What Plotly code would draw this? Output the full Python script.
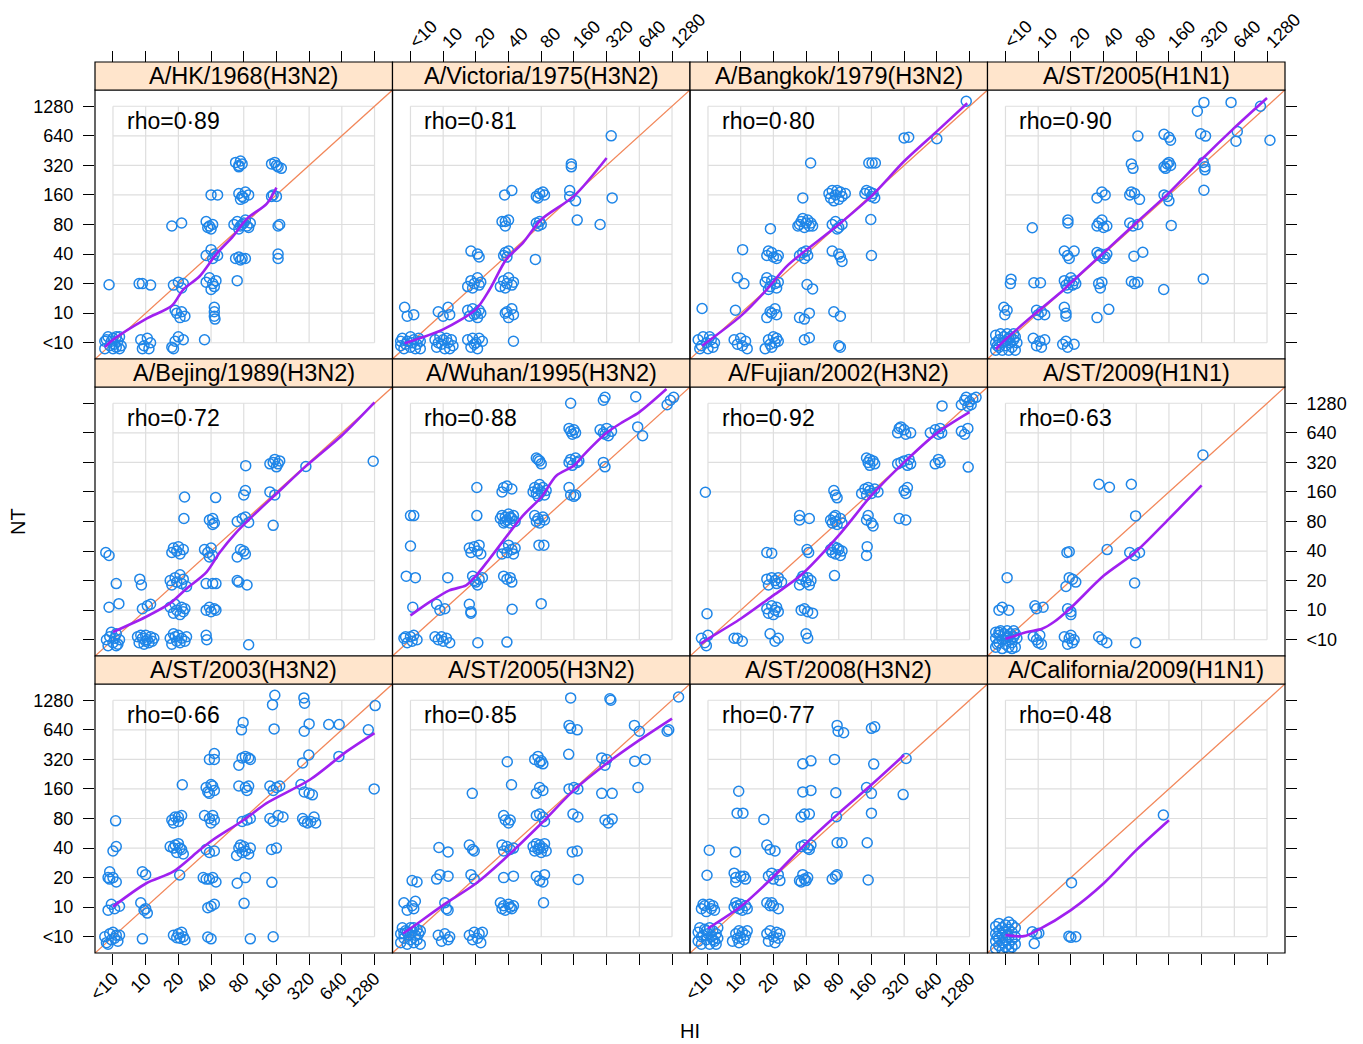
import plotly.graph_objects as go

TICK_TEXT = ["<10", "10", "20", "40", "80", "160", "320", "640", "1280"]
LEVELS = list(range(9))

STRAINS = ["A/HK/1968(H3N2)", "A/Victoria/1975(H3N2)", "A/Bangkok/1979(H3N2)", "A/ST/2005(H1N1)",
           "A/Bejing/1989(H3N2)", "A/Wuhan/1995(H3N2)", "A/Fujian/2002(H3N2)", "A/ST/2009(H1N1)",
           "A/ST/2003(H3N2)", "A/ST/2005(H3N2)", "A/ST/2008(H3N2)", "A/California/2009(H1N1)"]
RHO = ["0·89", "0·81", "0·80", "0·90", "0·72", "0·88", "0·92", "0·63", "0·66", "0·85", "0·77", "0·48"]

# points in titre-level units (0 = <10, 1 = 10, ... 8 = 1280), jitter
HK1968_PTS = [(-0.25, -0.2), (-0.2, 0.1), (-0.1, -0.1), (0, 0.15), (0.1, -0.15), (0.15, 0.05), (0.2, 0.2), (-0.15, 0.2),
              (0.05, -0.05), (0.25, -0.1), (-0.25, 0.05), (0.1, 0.2), (0, -0.2), (0.2, -0.2), (-0.05, 0.05),
              (0.85, 0.1), (0.95, -0.1), (1.05, 0.15), (1.15, 0), (1.1, -0.2), (0.9, -0.2),
              (1.8, -0.15), (1.9, 0.05), (2.0, 0.2), (2.15, 0.1), (1.85, -0.2), (2.8, 0.1), (-0.12, 1.96),
              (0.8, 2.0), (0.9, 2.0), (1.15, 1.95), (1.85, 1.95), (2.0, 2.05), (2.1, 1.85), (2.15, 2.0),
              (2.85, 2.05), (2.95, 2.2), (3.05, 2.0), (3.1, 1.9), (3.0, 1.8), (3.15, 2.1), (3.8, 2.1),
              (1.95, 1.0), (2.05, 0.85), (2.2, 0.9), (1.9, 1.1), (2.1, 1.05),
              (3.1, 1.2), (3.1, 1.05), (3.1, 0.9), (3.12, 0.8), (1.8, 3.95), (2.1, 4.05),
              (2.85, 4.1), (2.95, 3.95), (3.05, 4.0), (3.0, 3.85), (2.9, 3.9),
              (2.85, 2.95), (3.0, 3.15), (3.1, 3.0), (3.2, 2.95), (3.05, 2.85),
              (3.75, 2.85), (3.85, 2.9), (3.95, 2.85), (4.05, 2.85), (3.9, 2.8),
              (3.7, 4.0), (3.8, 4.1), (3.9, 3.95), (4.0, 4.05), (4.1, 3.95), (4.2, 4.05), (3.85, 3.85), (4.05, 4.15),
              (3.95, 4.0), (4.15, 3.9), (3.85, 5.05), (3.95, 4.95), (4.05, 5.1), (4.15, 5.0), (3.9, 4.85), (4.0, 4.9),
              (3.75, 6.1), (3.85, 5.95), (3.95, 6.05), (3.9, 6.15), (3.85, 6.0),
              (4.85, 6.05), (4.95, 6.1), (5.05, 5.95), (5.15, 5.9), (5.0, 6.0), (4.9, 5.0), (5.0, 4.95), (4.85, 4.95),
              (3.0, 5.0), (3.2, 5.0), (5.05, 3.95), (5.1, 4.0), (5.05, 3.0), (5.05, 2.85)]
HK1968_FIT = [(-0.25, -0.15), (0, 0.1), (1, 0.8), (1.8, 1.25), (2.15, 1.8), (2.65, 2.25), (3.16, 3.0),
              (3.67, 3.6), (4.1, 4.2), (4.7, 4.7), (5.0, 5.25)]

VIC1975_PTS = [(-0.3, -0.1), (-0.25, 0.15), (-0.2, -0.2), (-0.1, 0.05), (0, 0.2), (0, -0.15), (0.1, 0.1), (0.2, -0.05),
               (0.25, 0.15), (0.3, -0.2), (-0.15, -0.05), (0.15, -0.2), (0.05, 0.0), (-0.3, 0.05), (0.3, 0.05),
               (0.75, 0.1), (0.8, -0.15), (0.9, 0.2), (0.95, -0.05), (1.0, 0.1), (1.05, -0.2), (1.1, 0.15), (1.15, 0.0),
               (1.25, 0.1), (1.3, -0.1), (0.85, 0.0), (1.2, -0.2),
               (1.75, 0.1), (1.85, -0.15), (1.9, 0.15), (2.0, 0.0), (2.05, -0.2), (2.1, 0.15), (2.2, 0.05), (1.95, -0.05),
               (3.15, 0.05), (-0.18, 1.2), (-0.1, 0.9), (0.1, 0.95),
               (0.85, 1.05), (1.0, 0.9), (1.15, 1.2), (1.2, 0.95),
               (1.75, 1.1), (1.8, 0.9), (1.9, 1.15), (2.0, 1.0), (2.05, 0.85), (2.1, 1.1), (1.95, 0.95), (2.15, 1.0),
               (2.9, 1.0), (3.0, 0.85), (3.1, 1.15), (3.15, 0.95), (2.95, 1.05),
               (1.75, 1.9), (1.85, 2.1), (1.95, 2.0), (2.05, 2.2), (2.1, 1.95), (2.15, 2.05), (1.9, 1.85),
               (2.75, 1.9), (2.85, 2.1), (2.95, 2.0), (3.0, 2.2), (3.1, 1.95), (3.15, 2.05), (2.9, 1.85),
               (1.85, 3.1), (2.05, 3.0), (2.1, 2.9), (2.85, 2.95), (2.9, 3.05), (3.0, 3.1), (2.95, 2.9), (3.82, 2.82),
               (2.8, 4.1), (2.9, 4.1), (3.0, 4.15), (2.9, 3.95), (3.85, 4.05), (3.95, 4.1), (3.9, 3.95), (4.0, 4.0),
               (2.88, 5.0), (3.1, 5.15), (3.85, 4.95), (3.95, 5.05), (4.05, 5.1), (4.1, 5.0), (3.9, 4.9),
               (4.87, 5.15), (4.87, 4.95), (5.05, 4.8), (4.92, 6.05), (4.92, 5.95),
               (5.1, 4.15), (5.8, 4.0), (6.17, 4.9), (6.14, 7.0)]
VIC1975_FIT = [(-0.18, -0.02), (1, 0.45), (2, 1.13), (2.42, 1.8), (2.93, 2.82), (3.44, 3.38), (4, 4.17),
               (5, 4.96), (6, 6.25)]

BKK1979_PTS = [(-0.3, 0.1), (-0.2, -0.1), (-0.15, 0.2), (-0.05, 0.0), (0.0, -0.2), (0.1, 0.1), (0.2, 0.0), (-0.25, -0.2),
               (0.05, 0.2), (0.15, -0.15), (0.8, 0.1), (0.9, -0.05), (1.0, 0.15), (1.05, -0.1), (1.15, 0.05), (1.2, -0.2),
               (1.75, -0.2), (1.85, 0.1), (1.9, -0.05), (2.0, 0.2), (2.05, 0.0), (2.1, 0.15), (1.95, -0.15), (2.15, 0.05),
               (2.95, 0.1), (3.1, 0.17), (4.0, -0.1), (4.05, -0.15), (-0.18, 1.16), (0.84, 1.1),
               (1.8, 0.85), (1.95, 1.0), (2.05, 1.15), (2.1, 0.95), (1.9, 1.05),
               (2.8, 0.85), (2.95, 0.8), (3.1, 1.0), (3.85, 1.05), (4.05, 0.9), (0.9, 2.2), (1.1, 2.0),
               (1.75, 2.05), (1.8, 2.2), (1.9, 1.9), (1.95, 2.1), (2.05, 2.0), (2.1, 1.85), (2.15, 2.05), (1.85, 1.8),
               (3.03, 1.97), (3.2, 1.82), (1.06, 3.15),
               (1.8, 2.95), (1.85, 3.1), (1.95, 3.05), (2.0, 2.9), (2.1, 2.85), (2.15, 2.95),
               (2.8, 2.95), (2.9, 3.05), (3.0, 3.1), (3.05, 2.95), (2.95, 2.85),
               (3.8, 3.1), (4.0, 3.0), (4.05, 2.9), (4.1, 2.75), (5.0, 2.95), (1.91, 3.86),
               (2.75, 3.95), (2.85, 4.1), (2.9, 4.2), (2.95, 3.9), (3.0, 4.05), (3.05, 4.15), (3.1, 3.95), (3.15, 4.05),
               (2.8, 4.0), (3.2, 3.95), (3.8, 4.0), (3.9, 4.1), (4.0, 3.9), (4.1, 4.0), (3.95, 3.85), (4.98, 4.17),
               (2.9, 4.9), (3.7, 5.05), (3.75, 4.9), (3.8, 5.15), (3.9, 5.0), (4.0, 4.85), (4.05, 5.1), (4.1, 4.95),
               (4.2, 5.05), (3.85, 4.8), (3.95, 5.15),
               (4.8, 5.05), (4.85, 5.15), (4.95, 5.1), (5.0, 4.95), (5.1, 4.9), (5.05, 5.05), (3.14, 6.08),
               (4.92, 6.08), (5.02, 6.08), (5.12, 6.08), (6.0, 6.93), (6.14, 6.95), (7.0, 6.9), (7.9, 8.17)]
BKK1979_FIT = [(-0.18, -0.1), (1, 0.9), (1.8, 1.8), (2.42, 2.6), (4, 4.0), (5, 4.96), (6, 6.14), (7, 7.15),
               (7.93, 8.1)]

ST2005H1_PTS = [(-0.3, -0.25), (-0.3, 0.0), (-0.3, 0.25), (-0.2, -0.15), (-0.2, 0.1), (-0.15, 0.3), (-0.1, -0.25),
                (-0.1, 0.0), (-0.05, 0.2), (0.0, -0.1), (0.05, 0.1), (0.05, 0.3), (0.1, -0.25), (0.15, 0.0), (0.15, 0.2),
                (0.2, -0.15), (0.25, 0.1), (0.25, 0.3), (0.3, -0.25), (0.35, 0.0), (0.3, 0.2), (-0.25, -0.1),
                (0.1, 0.15), (0.0, 0.05),
                (0.85, 0.15), (0.95, -0.1), (1.05, 0.05), (1.1, -0.15), (1.2, 0.1),
                (1.75, -0.05), (1.85, 0.05), (1.9, -0.15), (2.1, -0.05),
                (-0.05, 1.2), (0.05, 1.1), (-0.02, 0.95), (0.95, 1.1), (1.0, 0.95), (1.1, 1.05), (1.2, 0.95),
                (1.8, 1.2), (1.85, 1.0), (1.85, 0.9), (2.8, 0.85), (3.16, 1.13), (0.17, 2.15), (0.15, 2.0),
                (0.87, 2.03), (1.07, 2.03),
                (1.8, 2.1), (1.85, 1.95), (1.95, 2.05), (2.0, 2.2), (2.05, 1.95), (2.1, 2.1), (1.9, 1.85), (2.15, 2.0),
                (2.85, 2.0), (2.9, 1.85), (2.95, 2.05), (3.85, 2.07), (3.95, 2.0), (4.05, 2.05), (4.84, 1.8),
                (6.05, 2.16), (0.82, 3.89), (1.8, 3.1), (1.9, 2.95), (1.95, 2.85), (2.1, 3.1), (1.91, 4.15), (1.91, 4.05),
                (2.8, 3.05), (2.85, 2.95), (2.9, 3.0), (3.0, 2.85), (3.05, 2.9), (3.1, 3.0),
                (2.8, 3.95), (2.85, 4.05), (2.95, 4.15), (3.0, 3.9), (3.1, 3.95), (3.93, 2.93), (4.2, 3.06),
                (3.8, 4.05), (3.9, 3.95), (4.05, 4.0), (5.07, 3.97), (2.8, 4.9), (2.95, 5.1), (3.05, 5.0),
                (3.8, 5.0), (3.85, 5.1), (3.95, 5.05), (4.1, 4.85), (4.85, 5.0), (4.95, 4.95), (5.0, 4.8), (6.07, 5.16),
                (3.85, 6.05), (3.9, 5.9), (4.85, 5.95), (4.95, 6.05), (5.0, 6.1), (5.05, 6.0), (4.9, 5.9),
                (6.05, 6.1), (6.1, 5.95), (6.1, 5.85), (4.05, 6.99), (4.85, 7.05), (5.0, 6.95), (5.05, 6.85),
                (5.97, 7.07), (6.12, 6.99), (7.09, 7.15), (7.05, 6.82),
                (5.87, 7.83), (6.07, 8.13), (6.9, 8.13), (7.8, 8.0), (8.09, 6.85)]
ST2005H1_FIT = [(-0.3, -0.22), (0, 0.11), (1, 1.07), (1.79, 1.8), (2, 2.03), (3, 3.04), (4, 4.06), (5, 5.07),
                (6, 6.2), (7, 7.27), (8, 8.28)]

BEJ1989_PTS = [(-0.2, 0.0), (-0.15, -0.2), (-0.1, 0.1), (0.0, -0.1), (0.05, 0.05), (0.1, 0.2), (0.15, -0.15), (0.2, 0.0),
               (-0.05, 0.25), (0.1, -0.2),
               (0.75, 0.1), (0.8, -0.1), (0.9, 0.05), (0.95, -0.15), (1.0, 0.15), (1.05, 0.0), (1.1, -0.1), (1.15, 0.1),
               (1.2, -0.05), (0.85, 0.15), (1.0, -0.05), (1.25, 0.05),
               (1.75, 0.05), (1.8, -0.15), (1.9, 0.1), (1.95, -0.05), (2.0, 0.15), (2.05, -0.1), (2.1, 0.05), (2.2, -0.05),
               (2.25, 0.1), (1.85, 0.2), (2.85, 0.15), (2.87, 0.0), (4.15, -0.17), (-0.12, 1.1), (0.18, 1.22),
               (0.9, 1.05), (1.05, 1.15), (1.15, 1.2),
               (1.75, 1.1), (1.85, 0.9), (1.9, 1.2), (1.95, 1.0), (2.05, 0.85), (2.1, 1.1), (2.15, 0.95), (2.2, 1.05),
               (2.85, 1.0), (2.95, 1.1), (3.0, 0.95), (3.1, 1.05), (3.15, 1.0), (0.1, 1.9), (0.82, 2.05), (0.87, 1.85),
               (1.75, 2.0), (1.8, 1.85), (1.9, 2.1), (1.95, 1.95), (2.05, 2.2), (2.1, 1.9), (2.15, 2.05), (2.25, 1.8),
               (2.85, 1.9), (3.05, 1.9), (3.15, 1.9), (3.8, 2.0), (3.85, 1.95), (4.1, 1.85),
               (-0.22, 2.95), (-0.12, 2.85),
               (1.8, 2.95), (1.85, 3.1), (1.95, 3.0), (2.05, 2.9), (2.15, 3.05), (2.0, 3.15),
               (2.8, 3.05), (2.9, 2.95), (3.0, 3.1), (3.05, 2.85), (2.95, 2.8),
               (3.8, 2.8), (3.9, 3.05), (4.0, 3.0), (4.05, 2.9), (2.17, 4.1),
               (2.95, 4.05), (3.05, 4.1), (3.1, 3.95), (3.05, 3.9), (3.8, 4.0), (3.95, 4.1), (4.05, 4.15), (4.15, 3.97),
               (4.9, 3.87), (2.19, 4.83), (3.14, 4.81), (4.0, 4.9), (4.05, 5.05), (4.8, 5.0), (4.95, 4.9), (4.06, 5.89),
               (4.8, 5.95), (4.9, 6.0), (4.95, 6.1), (5.05, 5.95), (5.1, 6.05), (5.0, 5.85), (5.9, 5.86), (7.96, 6.04)]
BEJ1989_FIT = [(0, 0.26), (1, 0.77), (1.73, 1.22), (2.24, 1.72), (2.86, 2.29), (3.27, 2.96), (3.78, 3.64),
               (4.18, 4.09), (5, 4.94), (5.92, 5.89), (7, 6.91), (8, 8.03)]

WUH1995_PTS = [(-0.2, 0.05), (-0.1, -0.1), (0.0, 0.1), (0.05, -0.05), (0.1, 0.15), (0.2, 0.0), (-0.15, 0.1),
               (0.75, 0.1), (0.85, 0.0), (0.95, 0.1), (1.0, -0.05), (1.1, 0.05), (1.2, -0.1), (2.06, -0.1), (2.95, -0.08),
               (0.07, 1.1), (0.8, 1.2), (0.9, 1.0), (1.05, 1.05), (1.8, 1.2), (1.85, 0.95), (1.85, 0.9),
               (3.11, 1.03), (4.0, 1.22), (-0.13, 2.15), (0.15, 2.1), (1.14, 2.1),
               (1.9, 2.15), (2.0, 1.95), (2.05, 1.85), (2.1, 2.05), (2.2, 2.1), (1.95, 2.0),
               (2.85, 2.15), (2.95, 2.05), (3.05, 2.1), (3.1, 1.95), (0, 3.17),
               (1.8, 3.1), (1.85, 2.95), (1.95, 3.15), (2.05, 3.0), (2.1, 3.2), (2.15, 2.9),
               (2.8, 2.9), (2.85, 3.1), (2.95, 2.95), (3.0, 3.2), (3.1, 3.05), (3.15, 2.9), (3.2, 3.1),
               (3.93, 3.2), (4.08, 3.2), (0, 4.2), (0.1, 4.2), (2.03, 4.2),
               (2.75, 4.1), (2.8, 4.2), (2.85, 3.95), (2.9, 4.15), (2.95, 4.05), (3.0, 4.25), (3.05, 3.95), (3.1, 4.1),
               (3.15, 4.2), (3.2, 4.0), (2.9, 4.0), (3.05, 4.15),
               (3.8, 4.2), (3.85, 4.0), (3.95, 3.95), (4.05, 4.15), (4.1, 4.05), (3.9, 4.1), (2.03, 5.15),
               (2.8, 5.0), (2.85, 5.15), (2.95, 5.2), (3.1, 5.1),
               (3.75, 5.0), (3.8, 5.15), (3.85, 4.95), (3.9, 5.1), (3.95, 5.25), (4.0, 5.0), (4.05, 5.15), (4.1, 4.9),
               (3.9, 4.85), (4.15, 5.05), (4.85, 5.15), (4.9, 4.9), (5.0, 4.85), (5.05, 4.9),
               (3.85, 6.15), (3.95, 6.05), (4.0, 5.95), (3.9, 6.1),
               (4.85, 6.0), (4.9, 6.1), (4.95, 5.9), (5.05, 6.15), (5.1, 6.0), (5.15, 6.05), (5.9, 6.0), (5.95, 5.85),
               (4.85, 7.15), (4.9, 7.05), (4.95, 6.95), (5.0, 7.1), (5.05, 7.0),
               (5.8, 7.1), (5.9, 7.0), (6.0, 7.15), (6.05, 6.9), (6.15, 7.05), (5.95, 6.95), (6.95, 7.2), (7.1, 6.9),
               (4.9, 8.0), (5.9, 8.1), (5.95, 8.2), (6.89, 8.22), (7.85, 7.95), (7.95, 8.1), (8.05, 8.2)]
WUH1995_FIT = [(0, 0.82), (0.58, 1.27), (1.19, 1.67), (1.7, 1.84), (2.01, 2.17), (2.42, 2.74), (3.44, 4.2),
               (4, 4.82), (4.46, 5.55), (5, 5.89), (5.28, 6.23), (6, 7.0), (6.5, 7.37), (7, 7.7), (7.83, 8.48)]

FUJ2002_PTS = [(-0.2, 0.05), (-0.1, -0.1), (0.0, 0.15), (-0.05, -0.2), (0.8, 0.05), (0.9, 0.05), (1.05, -0.05),
               (1.9, 0.2), (2.05, -0.05), (2.15, 0.05), (3.0, 0.2), (3.05, 0.05), (-0.03, 0.88),
               (1.8, 1.05), (1.85, 0.9), (1.95, 1.15), (2.0, 0.85), (2.05, 1.0), (2.1, 1.1), (2.15, 0.95),
               (2.85, 1.0), (2.95, 1.05), (3.05, 0.95), (3.2, 0.9),
               (1.8, 2.05), (1.85, 1.85), (1.95, 2.1), (2.05, 2.0), (2.1, 1.9), (2.15, 2.1), (2.25, 1.95),
               (2.8, 1.85), (2.85, 2.05), (2.9, 2.15), (3.0, 1.95), (3.05, 2.1), (3.1, 1.85), (3.15, 2.0),
               (3.87, 2.17), (1.8, 2.95), (1.95, 2.93), (3.03, 3.05), (3.08, 2.95),
               (3.75, 3.05), (3.8, 2.95), (3.85, 3.15), (3.9, 2.9), (4.0, 3.05), (4.05, 2.85), (4.1, 3.0), (3.95, 3.1),
               (4.87, 3.15), (4.85, 2.85), (2.8, 4.2), (2.8, 4.05), (3.1, 4.1),
               (3.75, 4.05), (3.8, 3.95), (3.85, 4.15), (3.9, 4.0), (3.95, 3.9), (4.05, 4.1), (4.1, 3.95), (3.9, 4.2),
               (4.85, 4.05), (4.9, 4.2), (5.0, 3.95), (5.05, 3.85), (5.85, 4.1), (6.05, 4.05), (-0.08, 4.99),
               (3.85, 5.05), (3.9, 4.9), (3.95, 4.8),
               (4.7, 4.95), (4.8, 5.1), (4.85, 4.9), (4.95, 5.05), (5.0, 4.95), (5.1, 5.1), (5.2, 5.0), (4.9, 5.15),
               (6.0, 5.05), (6.1, 5.15), (6.05, 4.95),
               (4.85, 6.15), (4.9, 6.0), (4.95, 5.9), (5.05, 6.05), (5.1, 5.95), (4.95, 6.1),
               (5.8, 5.95), (5.9, 6.0), (6.0, 6.05), (6.1, 5.9), (6.15, 6.1), (6.2, 5.95),
               (6.95, 5.95), (7.05, 6.1), (7.1, 6.0), (7.96, 5.84),
               (5.8, 7.0), (5.85, 7.15), (5.9, 7.2), (6.0, 7.1), (6.05, 6.95), (6.2, 7.0),
               (6.8, 7.0), (6.95, 7.1), (7.05, 6.95), (7.1, 7.15), (7.15, 7.0), (7.75, 7.05), (7.85, 6.95), (7.95, 7.15),
               (7.16, 7.91), (7.75, 7.95), (7.85, 8.1), (7.9, 8.2), (7.95, 7.9), (8.0, 8.05), (8.1, 8.15), (8.05, 7.95),
               (8.2, 8.2)]
FUJ2002_FIT = [(-0.23, -0.13), (0, 0.03), (1, 0.71), (2, 1.5), (2.83, 2.17), (4, 3.53), (5, 4.88), (6, 6.0),
               (7, 6.99), (8, 7.7)]

ST2009H1_PTS = [(-0.3, -0.25), (-0.3, 0.05), (-0.3, 0.25), (-0.2, -0.1), (-0.2, 0.15), (-0.15, 0.3), (-0.1, -0.3),
                (-0.1, 0.0), (-0.05, 0.2), (0.0, -0.15), (0.05, 0.1), (0.05, 0.3), (0.1, -0.25), (0.15, 0.0), (0.15, 0.2),
                (0.2, -0.1), (0.25, 0.1), (0.25, 0.3), (0.3, -0.25), (0.35, 0.05), (0.3, 0.2), (-0.25, -0.15),
                (0.1, 0.1), (0.0, 0.05), (0.2, -0.3), (-0.2, 0.25),
                (0.85, 0.1), (0.95, 0.0), (1.05, 0.15), (1.1, -0.15), (1.0, -0.1),
                (1.8, 0.1), (1.9, -0.15), (1.95, 0.05), (2.05, -0.1), (2.1, 0.0), (2.0, 0.15),
                (2.85, 0.1), (2.95, 0.0), (3.1, -0.1), (3.98, -0.1), (-0.2, 1.0), (-0.1, 1.1), (0.1, 1.0),
                (0.9, 1.15), (0.95, 1.05), (1.15, 1.1), (1.9, 1.05), (2.0, 0.95), (2.0, 0.85), (0.05, 2.1),
                (1.85, 1.8), (1.95, 2.1), (2.05, 2.05), (2.15, 1.95), (3.95, 1.92), (1.88, 2.95), (1.95, 2.98),
                (3.11, 3.05), (3.8, 2.95), (3.95, 2.85), (4.1, 2.95), (3.98, 4.19), (2.86, 5.26), (3.18, 5.16),
                (3.85, 5.26), (6.04, 6.25)]
ST2009H1_FIT = [(0, 0.03), (0.66, 0.26), (1.12, 0.37), (1.48, 0.6), (1.97, 1.05), (3.01, 2.17), (3.97, 2.96),
                (5, 4.09), (6, 5.22)]

ST2003H3_PTS = [(-0.25, 0.0), (-0.2, -0.2), (-0.1, 0.1), (-0.05, -0.1), (0.0, 0.15), (0.05, -0.05), (0.1, 0.05),
                (0.15, -0.15), (0.2, 0.05), (-0.15, -0.25), (0.9, -0.07),
                (1.85, 0.05), (2.0, 0.1), (2.05, -0.05), (2.1, 0.15), (2.15, 0.0), (2.2, -0.1), (1.95, -0.03),
                (2.9, -0.01), (3.0, -0.07), (4.2, -0.07), (4.9, 0.0),
                (-0.15, 0.9), (-0.05, 1.1), (0.05, 0.95), (0.2, 1.03), (0.85, 1.15), (0.95, 0.9), (1.0, 0.95), (1.05, 0.8),
                (2.9, 0.98), (3.0, 1.03), (3.1, 1.1), (4.01, 1.13),
                (-0.15, 2.0), (-0.1, 1.95), (0.0, 2.0), (0.1, 1.85), (-0.1, 2.2), (0.9, 2.2), (1.0, 2.1), (2.04, 2.09),
                (2.76, 2.0), (2.85, 1.95), (2.95, 1.95), (3.05, 2.0), (3.15, 1.85), (3.8, 1.81), (4.05, 2.0),
                (4.86, 1.84), (0.0, 2.9), (0.1, 3.05),
                (1.75, 3.05), (1.85, 3.0), (1.9, 3.1), (2.0, 3.15), (2.05, 3.0), (2.1, 2.95), (2.15, 2.8), (1.95, 2.85),
                (2.85, 2.95), (2.95, 2.85), (3.1, 2.9),
                (3.78, 2.75), (3.85, 3.0), (3.9, 3.1), (3.95, 2.85), (4.0, 3.05), (4.05, 2.9), (4.15, 2.8), (4.2, 3.0),
                (4.85, 2.95), (5.0, 3.0), (0.08, 3.92),
                (1.8, 3.95), (1.85, 3.85), (1.9, 4.05), (2.0, 4.05), (2.1, 4.1), (2.0, 3.9),
                (2.8, 4.1), (2.95, 4.0), (3.05, 4.1), (3.1, 3.95), (3.0, 3.85), (3.95, 3.9), (4.1, 3.95), (4.2, 4.0),
                (4.8, 4.0), (4.9, 3.9), (5.05, 4.1), (5.2, 4.05),
                (5.8, 4.0), (5.85, 3.9), (5.95, 3.85), (6.05, 3.9), (6.15, 4.05), (6.2, 3.85), (2.12, 5.14),
                (2.85, 5.05), (2.9, 4.9), (2.95, 4.85), (3.05, 5.1), (3.1, 4.95), (3.0, 5.15),
                (3.85, 5.1), (4.05, 5.05), (4.1, 4.95), (4.15, 5.1), (4.8, 5.1), (4.9, 4.95), (5.0, 5.05), (5.1, 5.1),
                (5.75, 5.15), (5.85, 4.9), (6.0, 4.85), (6.1, 4.8), (7.99, 5.0),
                (3.1, 6.2), (2.95, 6.0), (3.1, 6.0), (3.85, 5.8), (3.95, 6.05), (4.05, 6.1), (4.15, 6.05), (4.2, 6.0),
                (5.8, 5.88), (5.99, 6.15), (6.91, 6.1), (3.98, 7.25), (3.93, 7.0), (4.93, 7.03), (5.85, 6.95), (6.0, 7.2),
                (6.6, 7.18), (6.92, 7.18), (7.81, 7.0), (4.88, 7.85), (4.95, 8.17), (5.84, 8.08), (5.86, 7.9),
                (8.02, 7.82)]
ST2003H3_FIT = [(0, 1.02), (1.02, 1.81), (1.84, 2.2), (2.66, 2.94), (3.06, 3.28), (4, 3.95), (4.7, 4.52),
                (6.02, 5.31), (7.15, 6.27), (8.0, 6.89)]

ST2005H3_PTS = [(-0.3, -0.2), (-0.3, 0.1), (-0.25, 0.3), (-0.2, -0.05), (-0.15, 0.2), (-0.1, -0.25), (-0.05, 0.05),
                (0.0, 0.3), (0.0, -0.1), (0.05, 0.15), (0.1, -0.2), (0.15, 0.05), (0.2, 0.25), (0.2, -0.1), (0.25, 0.1),
                (0.3, -0.25), (0.3, 0.2), (-0.2, 0.1), (0.1, 0.3), (-0.1, 0.15),
                (0.85, 0.05), (0.95, -0.15), (1.05, 0.1), (1.15, -0.1), (1.2, 0.0),
                (1.8, 0.05), (1.9, -0.1), (1.95, 0.15), (2.05, -0.05), (2.1, 0.1), (2.15, -0.2), (2.2, 0.15),
                (-0.2, 1.15), (-0.1, 0.9), (0.05, 1.05), (0.15, 1.2), (0.1, 0.95), (1.05, 1.15), (1.1, 0.95), (1.15, 0.9),
                (2.75, 1.15), (2.8, 0.95), (2.85, 1.05), (2.9, 0.9), (3.0, 1.1), (3.05, 1.0), (3.1, 0.95), (3.15, 1.05),
                (4.07, 1.15), (0.05, 1.9), (0.2, 1.85), (0.8, 1.95), (0.9, 2.1), (1.15, 2.05), (1.85, 2.1), (1.95, 1.95),
                (2.85, 2.0), (3.15, 2.05), (3.85, 2.05), (3.95, 1.9), (4.1, 2.1), (4.05, 1.85), (5.13, 1.94),
                (0.87, 3.02), (1.15, 2.87), (1.8, 3.1), (1.9, 2.95), (1.95, 2.9),
                (2.8, 3.1), (2.85, 2.9), (2.95, 3.05), (3.05, 2.95), (3.15, 3.0),
                (3.75, 3.05), (3.8, 2.9), (3.85, 3.15), (3.9, 2.95), (3.95, 3.1), (4.0, 2.85), (4.05, 3.0), (4.1, 3.15),
                (4.15, 2.9), (3.95, 3.0), (4.95, 2.87), (5.1, 2.9),
                (2.85, 4.1), (2.9, 3.95), (3.0, 3.85), (3.05, 3.95), (3.85, 4.1), (3.95, 4.15), (4.05, 4.05), (4.1, 3.9),
                (4.97, 4.15), (5.12, 4.05), (5.95, 3.95), (6.05, 3.85), (6.17, 3.98), (1.89, 4.85), (3.09, 5.14),
                (3.85, 4.85), (3.95, 5.05), (4.05, 4.95), (4.85, 5.0), (5.0, 5.05), (5.12, 5.0), (5.85, 4.85),
                (6.17, 4.85), (6.96, 5.05), (2.96, 5.92),
                (3.8, 6.0), (3.9, 6.1), (4.0, 5.95), (4.05, 5.85), (3.95, 5.9), (4.84, 6.17), (5.85, 6.05), (6.0, 6.0),
                (5.95, 5.8), (6.86, 5.94), (7.18, 6.0), (4.85, 7.15), (4.9, 7.05), (5.1, 7.0), (6.85, 7.15), (7.0, 6.95),
                (7.85, 6.95), (7.9, 7.0), (4.9, 8.08), (6.1, 8.05), (6.13, 8.0), (8.2, 8.11)]
ST2005H3_FIT = [(-0.23, 0.11), (0, 0.28), (1, 1.07), (2, 1.8), (2.83, 2.59), (4, 3.83), (5, 4.96), (6, 5.86),
                (7, 6.65), (8, 7.38)]

ST2008H3_PTS = [(-0.3, -0.15), (-0.3, 0.15), (-0.25, 0.3), (-0.2, -0.25), (-0.15, 0.05), (-0.1, 0.25), (-0.05, -0.1),
                (0.0, 0.1), (0.05, -0.25), (0.05, 0.3), (0.1, 0.0), (0.15, 0.2), (0.2, -0.15), (0.25, 0.1), (0.3, 0.3),
                (0.3, -0.05), (-0.2, 0.0), (0.15, -0.1), (-0.05, 0.2), (0.25, -0.25),
                (0.75, -0.15), (0.85, 0.1), (0.9, -0.05), (0.95, 0.2), (1.0, 0.0), (1.05, 0.15), (1.1, -0.1), (1.15, 0.05),
                (1.2, 0.2), (0.95, -0.2),
                (1.8, 0.1), (1.85, -0.15), (1.9, 0.2), (2.0, 0.0), (2.05, -0.2), (2.1, 0.15), (2.15, -0.05), (2.2, 0.1),
                (-0.2, 0.95), (-0.1, 1.05), (-0.05, 0.85), (0.05, 1.1), (0.1, 0.95), (0.15, 1.05), (-0.15, 1.1), (0.2, 0.9),
                (0.8, 1.0), (0.85, 1.15), (0.95, 0.95), (1.0, 1.1), (1.05, 0.9), (1.15, 1.05), (1.2, 0.95), (0.9, 1.05),
                (1.8, 1.15), (1.9, 1.05), (1.95, 1.15), (2.0, 1.05), (2.15, 0.95), (-0.03, 2.08),
                (0.8, 2.15), (0.85, 2.0), (0.85, 1.85), (1.0, 2.05), (1.1, 2.05), (1.15, 1.95),
                (1.85, 2.05), (1.95, 2.15), (2.0, 1.95), (2.15, 2.1), (2.2, 1.9),
                (2.8, 1.9), (2.85, 1.85), (2.9, 2.1), (2.95, 1.95), (3.0, 1.9), (3.05, 2.0),
                (3.8, 1.95), (3.9, 2.05), (3.95, 2.1), (4.9, 1.92), (0.04, 2.93), (0.84, 2.87),
                (1.8, 3.1), (1.9, 2.95), (2.05, 2.9), (2.85, 3.05), (2.95, 3.1), (3.05, 3.0), (3.15, 3.1), (3.1, 2.95),
                (3.95, 3.18), (4.1, 3.18), (4.87, 3.18), (1.71, 3.97), (0.89, 4.18), (1.07, 4.18),
                (2.85, 4.05), (2.95, 4.15), (3.1, 4.15), (3.93, 4.06), (5.0, 4.18), (0.94, 4.92), (2.9, 4.9), (3.15, 4.95),
                (3.91, 4.87), (4.85, 5.05), (5.0, 4.85), (5.97, 4.81), (2.9, 5.85), (3.15, 5.95), (3.87, 6.0),
                (5.07, 5.84), (6.06, 6.03), (3.95, 7.15), (3.98, 6.95), (4.15, 6.9), (5.0, 7.05), (5.1, 7.1)]
ST2008H3_FIT = [(0, 0.28), (1, 1.02), (2, 2.03), (3, 3.16), (4, 4.18), (5, 5.14), (6, 6.15)]

CAL2009_PTS = [(-0.3, -0.4), (-0.3, -0.15), (-0.3, 0.1), (-0.3, 0.35), (-0.2, -0.3), (-0.2, -0.05), (-0.2, 0.2),
               (-0.2, 0.45), (-0.1, -0.45), (-0.1, -0.2), (-0.1, 0.05), (-0.1, 0.3), (0.0, -0.35), (0.0, -0.1),
               (0.0, 0.15), (0.0, 0.4), (0.1, -0.45), (0.1, -0.25), (0.1, 0.0), (0.1, 0.25), (0.1, 0.5), (0.2, -0.35),
               (0.2, -0.1), (0.2, 0.15), (0.2, 0.4), (0.3, -0.25), (0.3, 0.0), (0.3, 0.3), (-0.25, 0.0), (0.05, 0.05),
               (0.82, 0.17), (0.95, 0.1), (1.02, 0.12), (0.88, -0.23), (1.94, 0.02), (2.0, -0.02), (2.15, 0.0),
               (2.02, 1.83), (4.83, 4.12)]
CAL2009_FIT = [(0, 0.06), (0.56, 0.02), (1, 0.23), (2, 0.9), (3, 1.8), (4, 2.93), (5, 3.94)]

PANEL_PTS = [HK1968_PTS, VIC1975_PTS, BKK1979_PTS, ST2005H1_PTS, BEJ1989_PTS, WUH1995_PTS, FUJ2002_PTS,
             ST2009H1_PTS, ST2003H3_PTS, ST2005H3_PTS, ST2008H3_PTS, CAL2009_PTS]
PANEL_FIT = [HK1968_FIT, VIC1975_FIT, BKK1979_FIT, ST2005H1_FIT, BEJ1989_FIT, WUH1995_FIT, FUJ2002_FIT,
             ST2009H1_FIT, ST2003H3_FIT, ST2005H3_FIT, ST2008H3_FIT, CAL2009_FIT]

# page geometry, in screenshot pixels; the page puts the figure 8px in from the top-left
OFF = 8
W, H = 1363 - OFF, 1044 - OFF
COL_X0 = [95, 392.5, 690, 987.5]
COL_W = 297.5
ROW_TOP = [62, 359, 656]
STRIP_H = 28
PANEL_H = 269
RNG = [-0.55, 8.55]


def px(x):
    return (x - OFF) / W


def py(y):
    return 1 - (y - OFF) / H


FONT = "Liberation Sans, Arial, sans-serif"
PT_COL = "#1f86e8"
FIT_COL = "#a020f0"
ID_COL = "#f2875a"
GRID_COL = "#dedede"
STRIP_COL = "#ffe5cc"

fig = go.Figure()
shapes, annos = [], []
axes = {}

for i in range(12):
    r, c = divmod(i, 4)
    sfx = "" if i == 0 else str(i + 1)
    xa, ya = "x" + sfx, "y" + sfx
    x0, x1 = COL_X0[c], COL_X0[c] + COL_W
    ptop = ROW_TOP[r] + STRIP_H
    pbot = ptop + PANEL_H

    tick_common = dict(tickvals=LEVELS, ticktext=TICK_TEXT, ticklen=11, tickwidth=1, tickcolor="black",
                       tickfont=dict(size=18, color="black", family=FONT), automargin=False)

    xax = dict(domain=[px(x0), px(x1)], range=RNG, showgrid=False, zeroline=False, showline=False,
               tickangle=-45, ticklabelstandoff=-4, fixedrange=True, **tick_common)
    if r == 0:
        # top labels sit a touch closer so the longest one stays inside the page
        xax.update(side="top", anchor="free", position=py(ROW_TOP[0]), ticks="outside",
                   ticklabelstandoff=-8, showticklabels=c in (1, 3))
    elif r == 2:
        xax.update(side="bottom", anchor=ya, ticks="outside", showticklabels=c in (0, 2))
    else:
        xax.update(anchor=ya, ticks="", showticklabels=False)

    yax = dict(domain=[py(pbot), py(ptop)], range=RNG, showgrid=False, zeroline=False, showline=False,
               anchor=xa, ticklabelstandoff=6, fixedrange=True, **tick_common)
    if c == 0:
        yax.update(side="left", ticks="outside", showticklabels=r in (0, 2))
    elif c == 3:
        yax.update(side="right", ticks="outside", showticklabels=r == 1)
    else:
        yax.update(ticks="", showticklabels=False)

    axes["xaxis" + sfx] = xax
    axes["yaxis" + sfx] = yax

    # grid only across the tick range
    for k in LEVELS:
        shapes.append(dict(type="line", xref=xa, yref=ya, x0=k, x1=k, y0=LEVELS[0], y1=LEVELS[-1],
                           line=dict(color=GRID_COL, width=1.2), layer="below"))
        shapes.append(dict(type="line", xref=xa, yref=ya, y0=k, y1=k, x0=LEVELS[0], x1=LEVELS[-1],
                           line=dict(color=GRID_COL, width=1.2), layer="below"))

    # panel frame and strip
    shapes.append(dict(type="rect", xref=xa + " domain", yref=ya + " domain", x0=0, x1=1, y0=0, y1=1,
                       line=dict(color="black", width=1.2), layer="above"))
    shapes.append(dict(type="rect", xref="paper", yref="paper", x0=px(x0), x1=px(x1),
                       y0=py(ptop), y1=py(ROW_TOP[r]), fillcolor=STRIP_COL,
                       line=dict(color="black", width=1.2), layer="above"))
    annos.append(dict(xref="paper", yref="paper", x=px((x0 + x1) / 2), y=py(ROW_TOP[r] + STRIP_H / 2),
                      text=STRAINS[i], showarrow=False, xanchor="center", yanchor="middle",
                      font=dict(size=23.5, color="black", family=FONT)))
    annos.append(dict(xref=xa, yref=ya, x=0.36, y=7.5, text="rho=" + RHO[i], showarrow=False,
                      xanchor="left", yanchor="middle", font=dict(size=23, color="black", family=FONT)))

    # identity line
    fig.add_trace(go.Scatter(x=[RNG[0] - 1, RNG[1] + 1], y=[RNG[0] - 1, RNG[1] + 1], mode="lines",
                             line=dict(color=ID_COL, width=1.3), xaxis=xa, yaxis=ya,
                             hoverinfo="skip", showlegend=False))
    pts = PANEL_PTS[i]
    fig.add_trace(go.Scatter(x=[p[0] for p in pts], y=[p[1] for p in pts], mode="markers",
                             marker=dict(symbol="circle-open", size=10, color=PT_COL, line=dict(width=1.5)),
                             xaxis=xa, yaxis=ya, showlegend=False))
    fit = PANEL_FIT[i]
    fig.add_trace(go.Scatter(x=[p[0] for p in fit], y=[p[1] for p in fit], mode="lines",
                             line=dict(color=FIT_COL, width=2.6, shape="spline", smoothing=0.8),
                             xaxis=xa, yaxis=ya, hoverinfo="skip", showlegend=False))

annos.append(dict(xref="paper", yref="paper", x=px(18), y=py(522), text="NT", textangle=-90,
                  xanchor="center", yanchor="middle", showarrow=False,
                  font=dict(size=20, color="black", family=FONT)))
annos.append(dict(xref="paper", yref="paper", x=px(690), y=py(1031), text="HI",
                  xanchor="center", yanchor="middle", showarrow=False,
                  font=dict(size=20, color="black", family=FONT)))

fig.update_layout(
    width=W, height=H,
    margin=dict(l=0, r=0, t=0, b=0, autoexpand=False),
    paper_bgcolor="white", plot_bgcolor="white",
    showlegend=False,
    shapes=shapes,
    annotations=annos,
    font=dict(family=FONT, color="black"),
    **axes,
)

fig.write_html("out.html")
